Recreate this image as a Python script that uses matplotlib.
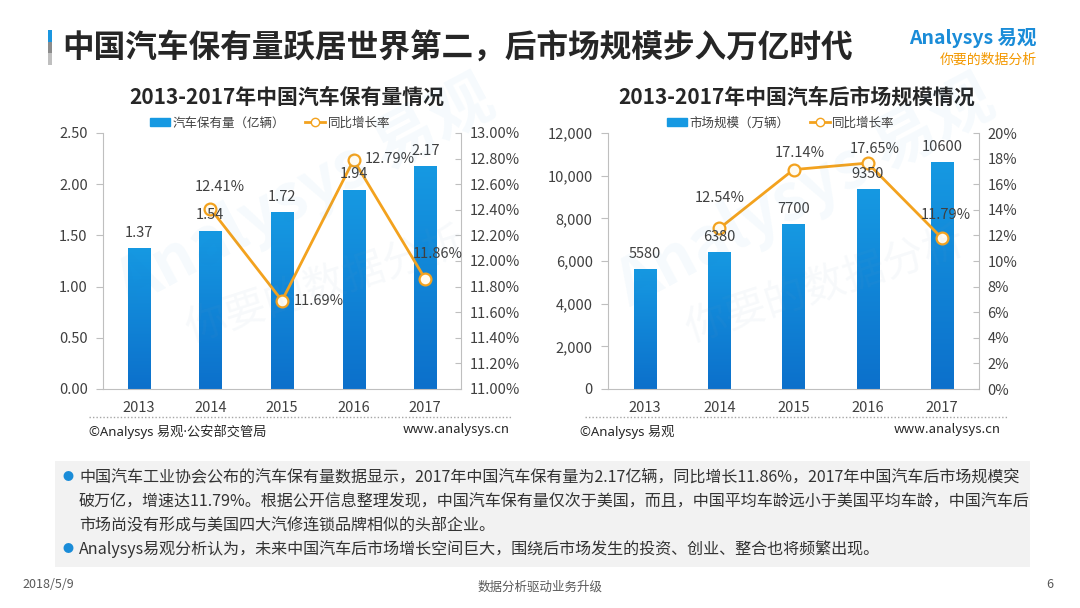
import numpy as np
import matplotlib
matplotlib.use('Agg')
from matplotlib import pyplot as plt
from matplotlib.patches import Patch, Rectangle
from matplotlib.lines import Line2D
from matplotlib.colors import LinearSegmentedColormap
from matplotlib.ticker import FuncFormatter, MultipleLocator

plt.rcParams['font.family'] = ['Noto Sans CJK SC', 'DejaVu Sans']

# data
years = ['2013', '2014', '2015', '2016', '2017']
stock = [1.37, 1.54, 1.72, 1.94, 2.17]                # 亿辆
stock_growth = [None, 12.41, 11.69, 12.79, 11.86]     # %
market = [5580, 6380, 7700, 9350, 10600]              # 万辆
market_growth = [None, 12.54, 17.14, 17.65, 11.79]    # %

W, H = 1080, 608
BLUE_TOP = '#1699E2'
BLUE_BOT = '#0C70CB'
ORANGE = '#F3A21E'
GRID = '#BFBFBF'
TXT = '#404040'

fig = plt.figure(figsize=(W / 100, H / 100), dpi=100)


def fx(px):
    return px / W


def fy(py):
    return 1 - py / H


def grad_bars(ax, vals, width):
    x = np.arange(len(vals))
    bars = ax.bar(x, vals, width, color=BLUE_TOP, zorder=2)
    cmap = LinearSegmentedColormap.from_list('bl', [BLUE_BOT, BLUE_TOP])
    g = np.linspace(0, 1, 256).reshape(-1, 1)
    for b in bars:
        ax.imshow(g, extent=[b.get_x(), b.get_x() + b.get_width(), 0, b.get_height()],
                  origin='lower', cmap=cmap, aspect='auto', zorder=2)
    return bars


def style(ax, ax2):
    for s in ['top', 'right']:
        ax.spines[s].set_visible(False)
    for s in ['top', 'left', 'bottom']:
        ax2.spines[s].set_visible(False)
    ax.spines['left'].set_color(GRID)
    ax.spines['bottom'].set_color(GRID)
    ax2.spines['right'].set_color(GRID)
    ax.tick_params(axis='y', direction='out', length=5, color=GRID, labelsize=10.5,
                   labelcolor=TXT, pad=6)
    ax2.tick_params(axis='y', direction='in', length=4, color=GRID, labelsize=10.5,
                    labelcolor=TXT, pad=6)
    ax.tick_params(axis='x', length=0, labelsize=10.5, labelcolor=TXT, pad=9)
    ax.set_xlim(-0.5, len(years) - 0.5)
    ax.set_xticks(range(len(years)))
    ax.set_xticklabels(years)


def draw_line(ax2, vals):
    xs = [i for i, v in enumerate(vals) if v is not None]
    ys = [v for v in vals if v is not None]
    ax2.plot(xs, ys, color=ORANGE, lw=2, marker='o', ms=8.5,
             markerfacecolor='#FFFBF0', markeredgecolor=ORANGE, markeredgewidth=1.6, zorder=5)
    return xs, ys


# ---------------- left chart ----------------
ax = fig.add_axes([fx(103), fy(389), fx(461 - 103), (389 - 133) / H])
grad_bars(ax, stock, 0.31)
ax.set_ylim(0, 2.5)
ax.yaxis.set_major_locator(MultipleLocator(0.5))
ax.yaxis.set_major_formatter(FuncFormatter(lambda v, p: '%.2f' % v))
ax2 = ax.twinx()
ax2.set_ylim(11, 13)
ax2.yaxis.set_major_locator(MultipleLocator(0.2))
ax2.yaxis.set_major_formatter(FuncFormatter(lambda v, p: '%.2f%%' % v))
style(ax, ax2)
for i, v in enumerate(stock):
    ax2.annotate('%.2f' % v, xy=(i, 11 + v * 2 / 2.5), xytext=(0, 11.5), textcoords='offset points',
                 ha='center', va='center', fontsize=10.5, color=TXT, zorder=6)
xs, ys = draw_line(ax2, stock_growth)
# label offsets in px (dx, dy) and alignment
offs = {1: (9, 22, 'center'), 2: (12, 0, 'left'), 3: (11, 1, 'left'), 4: (13, 25, 'center')}
for x, y in zip(xs, ys):
    dx, dy, ha = offs[x]
    ax2.annotate('%.2f%%' % y, xy=(x, y), xytext=(dx * 0.72, dy * 0.72), textcoords='offset points',
                 ha=ha, va='center', fontsize=10.5, color=TXT, zorder=6)

# ---------------- right chart ----------------
bx = fig.add_axes([fx(608), fy(389), fx(979 - 608), (389 - 133) / H])
grad_bars(bx, market, 0.3)
bx.set_ylim(0, 12000)
bx.yaxis.set_major_locator(MultipleLocator(2000))
bx.yaxis.set_major_formatter(FuncFormatter(lambda v, p: '{:,}'.format(int(v))))
bx2 = bx.twinx()
bx2.set_ylim(0, 20)
bx2.yaxis.set_major_locator(MultipleLocator(2))
bx2.yaxis.set_major_formatter(FuncFormatter(lambda v, p: '%d%%' % v))
style(bx, bx2)
for i, v in enumerate(market):
    bx2.annotate('%d' % v, xy=(i, v * 20 / 12000), xytext=(0, 11.5), textcoords='offset points',
                 ha='center', va='center', fontsize=10.5, color=TXT, zorder=6)
xs, ys = draw_line(bx2, market_growth)
offs = {1: (0, 30, 'center'), 2: (6, 17, 'center'), 3: (7, 14, 'center'), 4: (4, 23, 'center')}
for x, y in zip(xs, ys):
    dx, dy, ha = offs[x]
    bx2.annotate('%.2f%%' % y, xy=(x, y), xytext=(dx * 0.72, dy * 0.72), textcoords='offset points',
                 ha=ha, va='center', fontsize=10.5, color=TXT, zorder=6)

# legends
for cx, lab in [(270, '汽车保有量（亿辆）'), (781, '市场规模（万辆）')]:
    handles = [Patch(color=BLUE_TOP, label=lab),
               Line2D([0], [0], color=ORANGE, lw=2, marker='o', ms=6, markerfacecolor='white',
                      markeredgecolor=ORANGE, label='同比增长率')]
    fig.legend(handles=handles, loc='center', bbox_to_anchor=(fx(cx), fy(123)), ncol=2,
               frameon=False, fontsize=9, handlelength=1.6, handleheight=0.55,
               handletextpad=0.2, columnspacing=1.6, labelcolor=TXT)

# subtitles
fig.text(fx(287), fy(97), '2013-2017年中国汽车保有量情况', ha='center', va='center',
         fontsize=15, fontweight='bold', color='#262626')
fig.text(fx(797), fy(97), '2013-2017年中国汽车后市场规模情况', ha='center', va='center',
         fontsize=15, fontweight='bold', color='#262626')

# watermarks
for ox in [0, 500]:
    fig.text(fx(105 + ox), fy(320), 'Analysys 易观', fontsize=46, color='#1A8CD8', alpha=0.04,
             rotation=28, ha='left', va='bottom', fontweight='bold')
    fig.text(fx(180 + ox), fy(350), '你要的数据分析', fontsize=30, color='#7F9FBF', alpha=0.06,
             rotation=18, ha='left', va='bottom')

# source lines
for x0, x1, src, x_src, x_web in [(89, 512, '©Analysys 易观·公安部交管局', 89, 510),
                                    (585, 1008, '©Analysys 易观', 580, 1001)]:
    fig.add_artist(Line2D([fx(x0), fx(x1)], [fy(417), fy(417)], color='#A6A6A6', lw=1,
                          linestyle=(0, (1, 1.5))))
    fig.text(fx(x_src), fy(432), src, ha='left', va='center', fontsize=9.5, color='#262626',
             family=['Noto Sans', 'Noto Sans CJK SC'])
    fig.text(fx(x_web), fy(430), 'www.analysys.cn', ha='right', va='center', fontsize=9.5,
             color='#262626')

# header
fig.add_artist(Rectangle((fx(48), fy(42)), fx(4), (42 - 30) / H, color='#1A96E0', lw=0))
fig.add_artist(Rectangle((fx(48), fy(53)), fx(4), (53 - 42) / H, color='#8C8C8C', lw=0))
fig.add_artist(Rectangle((fx(48), fy(65)), fx(4), (65 - 53) / H, color='#BFBFBF', lw=0))
fig.text(fx(62), fy(48), '中国汽车保有量跃居世界第二，后市场规模步入万亿时代', ha='left', va='center',
         fontsize=22.8, fontweight='bold', color='#262626')
fig.text(fx(1037), fy(38), 'Analysys 易观', ha='right', va='center', fontsize=14,
         fontweight='bold', color='#1A8CD8', style='italic')
fig.text(fx(1037), fy(60), '你要的数据分析', ha='right', va='center', fontsize=10,
         color='#F39800', style='italic')

# bottom text box
fig.add_artist(Rectangle((fx(55), fy(567)), fx(1030 - 55), (567 - 461) / H,
                         color='#F2F2F2', lw=0, zorder=0))
lines = [
    (477, True, '中国汽车工业协会公布的汽车保有量数据显示，2017年中国汽车保有量为2.17亿辆，同比增长11.86%，2017年中国汽车后市场规模突'),
    (502, False, '破万亿，增速达11.79%。根据公开信息整理发现，中国汽车保有量仅次于美国，而且，中国平均车龄远小于美国平均车龄，中国汽车后'),
    (526, False, '市场尚没有形成与美国四大汽修连锁品牌相似的头部企业。'),
    (549, True, 'Analysys易观分析认为，未来中国汽车后市场增长空间巨大，围绕后市场发生的投资、创业、整合也将频繁出现。'),
]
for y, bullet, s in lines:
    if bullet:
        fig.text(fx(68), fy(y), '●', ha='center', va='center', fontsize=8, color='#1A8CD8')
    fig.text(fx(79), fy(y), s, ha='left', va='center', fontsize=11.55, color='#333333')

# footer
fig.text(fx(22), fy(585), '2018/5/9', ha='left', va='center', fontsize=9, color='#595959')
fig.text(fx(540), fy(587), '数据分析驱动业务升级', ha='center', va='center', fontsize=9, color='#595959')
fig.text(fx(1053), fy(585), '6', ha='right', va='center', fontsize=9, color='#595959')

fig.savefig('out.png', dpi=100, facecolor='white')
